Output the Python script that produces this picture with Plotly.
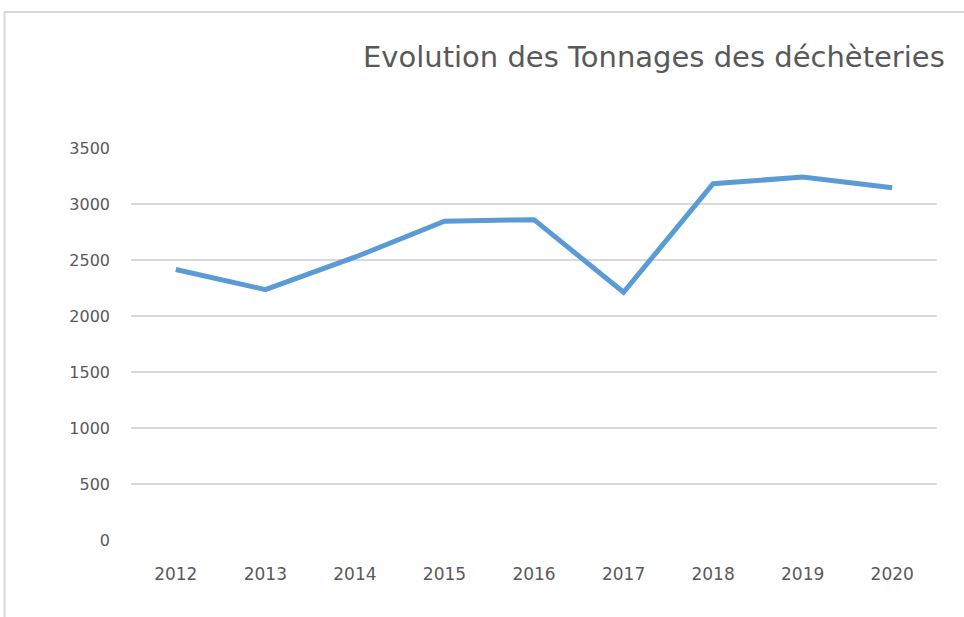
import plotly.graph_objects as go

years = ["2012", "2013", "2014", "2015", "2016", "2017", "2018", "2019", "2020"]
tonnages = [2415, 2236, 2525, 2847, 2860, 2212, 3181, 3240, 3146]
y_ticks = [0, 500, 1000, 1500, 2000, 2500, 3000, 3500]
title_text = "Evolution des Tonnages des déchèteries"

W, H = 964, 617
L, T = 131, 148
pw, ph = 806, 392
R, B = W - L - pw, H - T - ph

fig = go.Figure()
fig.add_trace(go.Scatter(
    x=years, y=tonnages, mode="lines",
    line=dict(color="#5B9BD5", width=5, shape="linear"),
    hoverinfo="x+y", showlegend=False,
))

font_family = "DejaVu Sans"
fig.update_layout(
    width=W, height=H,
    margin=dict(l=L, r=R, t=T, b=B, pad=0),
    paper_bgcolor="white", plot_bgcolor="white",
    title=dict(
        text=title_text, xref="container", yref="container",
        x=363 / W, xanchor="left", y=1 - 57 / H, yanchor="middle",
        font=dict(family=font_family, size=29, color="#595959"),
    ),
    xaxis=dict(
        type="category", range=[-0.5, len(years) - 0.5],
        showgrid=False, showline=False, zeroline=False,
        ticks="", tickfont=dict(family=font_family, size=17, color="#595959"),
        ticklabelstandoff=22,
    ),
    yaxis=dict(
        range=[0, 3500], tickvals=y_ticks, ticktext=[str(v) for v in y_ticks],
        showgrid=True, gridcolor="#D9D9D9", gridwidth=1.5,
        zeroline=False, showline=False, ticks="",
        tickfont=dict(family=font_family, size=16, color="#595959"),
        ticklabelstandoff=20,
    ),
)

# chart frame (top and left edges visible in the reference)
def px_x(p):
    return (p - L) / pw

def px_y(p):
    return (H - B - p) / ph

fig.add_shape(type="line", xref="paper", yref="paper",
              x0=px_x(4), x1=px_x(W + 5), y0=px_y(12), y1=px_y(12),
              line=dict(color="#D9D9D9", width=2))
fig.add_shape(type="line", xref="paper", yref="paper",
              x0=px_x(4.5), x1=px_x(4.5), y0=px_y(12), y1=px_y(H + 5),
              line=dict(color="#D9D9D9", width=2))

fig.write_html(
    "out.html",
    config={"displayModeBar": False},
    post_script="document.body.style.margin='0';document.body.style.overflow='hidden';",
)
